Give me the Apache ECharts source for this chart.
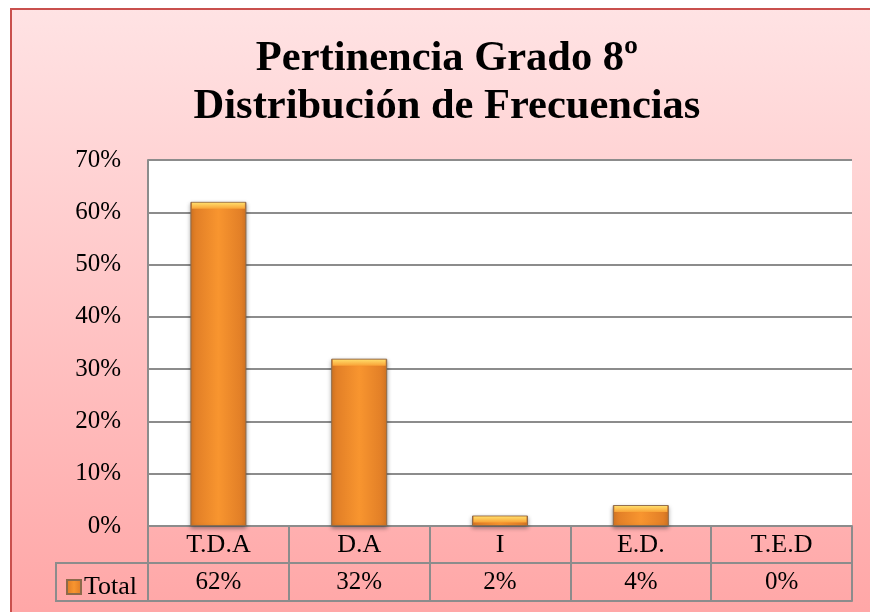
<!DOCTYPE html>
<html>
<head>
<meta charset="utf-8">
<script src="https://cdn.jsdelivr.net/npm/echarts@6/dist/echarts.min.js"></script>
<style>
  html, body { margin: 0; padding: 0; background: #fff; }
  #chart { width: 870px; height: 612px; }
</style>
</head>
<body>
<div id="chart"></div>
<script>
// datos del grafico
var categorias = ['T.D.A', 'D.A', 'I', 'E.D.', 'T.E.D'];
var totales = [62, 32, 2, 4, 0];
var serieNombre = 'Total';
var tituloLineas = ['Pertinencia Grado 8º', 'Distribución de Frecuencias'];

var fuente = '"Liberation Serif", "Times New Roman", serif';
var gris = '#8c8c8c';

// las barras en cero no se dibujan (como en Excel)
var barras = totales.map(function (v) { return v === 0 ? '-' : v; });

var myChart = echarts.init(document.getElementById('chart'));
var option = {
  animation: false,
  textStyle: { fontFamily: fuente },
  title: {
    text: tituloLineas.join('\n'),
    left: 442,
    top: 30,
    textAlign: 'center',
    textStyle: { fontFamily: fuente, fontSize: 42.5, fontWeight: 'bold', color: '#000', lineHeight: 48 }
  },
  legend: {
    data: [serieNombre],
    left: 61,
    top: 569,
    icon: 'rect',
    itemWidth: 14,
    itemHeight: 14,
    itemGap: 4,
    textStyle: { fontFamily: fuente, fontSize: 26, color: '#000', padding: [0, 0, 0, -2] }
  },
  graphic: [
    {
      type: 'rect',
      z: -10,
      silent: true,
      shape: { x: 11, y: 9, width: 900, height: 620 },
      style: {
        fill: new echarts.graphic.LinearGradient(0, 0, 0, 1, [
          { offset: 0, color: '#ffe3e4' },
          { offset: 1, color: '#ffa5a5' }
        ]),
        stroke: '#c9504d',
        lineWidth: 2
      }
    },
    {
      // celda de la leyenda
      type: 'polyline',
      silent: true,
      shape: { points: [[148, 563], [56, 563], [56, 601], [148, 601]] },
      style: { stroke: gris, lineWidth: 2, fill: null }
    }
  ],
  grid: {
    left: 148,
    right: 18,
    top: 160,
    bottom: 86,
    show: true,
    backgroundColor: '#ffffff',
    borderWidth: 0
  },
  xAxis: [
    {
      type: 'category',
      data: categorias,
      position: 'bottom',
      axisLine: { onZero: false, lineStyle: { color: gris, width: 2 } },
      axisTick: { show: true, length: 75, lineStyle: { color: gris, width: 2 } },
      axisLabel: { fontFamily: fuente, fontSize: 26, color: '#000', margin: 6 }
    },
    {
      type: 'category',
      data: categorias,
      position: 'bottom',
      offset: 37,
      axisLine: { onZero: false, lineStyle: { color: gris, width: 2 } },
      axisTick: { show: false },
      axisLabel: {
        fontFamily: fuente, fontSize: 25, color: '#000', margin: 7,
        formatter: function (v, i) { return totales[i] + '%'; }
      }
    },
    {
      type: 'category',
      data: categorias,
      position: 'bottom',
      offset: 75,
      axisLine: { onZero: false, lineStyle: { color: gris, width: 2 } },
      axisTick: { show: false },
      axisLabel: { show: false }
    }
  ],
  yAxis: {
    type: 'value',
    min: 0,
    max: 70,
    interval: 10,
    axisLine: { show: true, lineStyle: { color: gris, width: 2 } },
    axisTick: { show: false },
    splitLine: { lineStyle: { color: gris, width: 2 } },
    axisLabel: {
      fontFamily: fuente, fontSize: 25, color: '#000', margin: 27,
      formatter: '{value}%'
    }
  },
  series: [
    {
      name: serieNombre,
      type: 'bar',
      xAxisIndex: 0,
      barWidth: 56,
      data: barras,
      itemStyle: {
        color: new echarts.graphic.LinearGradient(0, 0, 1, 0, [
          { offset: 0, color: '#dd7a25' },
          { offset: 0.5, color: '#f8952f' },
          { offset: 1, color: '#dd7a25' }
        ]),
        borderColor: '#8d6a4a',
        borderWidth: 1,
        shadowColor: 'rgba(0,0,0,0.35)',
        shadowBlur: 4,
        shadowOffsetY: 2
      }
    },
    {
      // brillo biselado en la parte superior de cada barra
      name: serieNombre + '_bisel',
      type: 'pictorialBar',
      xAxisIndex: 0,
      data: barras,
      symbol: 'rect',
      symbolSize: [53, 6],
      symbolPosition: 'end',
      symbolOffset: [0, 1],
      silent: true,
      z: 3,
      itemStyle: {
        color: new echarts.graphic.LinearGradient(0, 0, 0, 1, [
          { offset: 0, color: '#ffdc6a' },
          { offset: 1, color: '#f9a236' }
        ])
      }
    }
  ]
};
option && myChart.setOption(option);
</script>
</body>
</html>
